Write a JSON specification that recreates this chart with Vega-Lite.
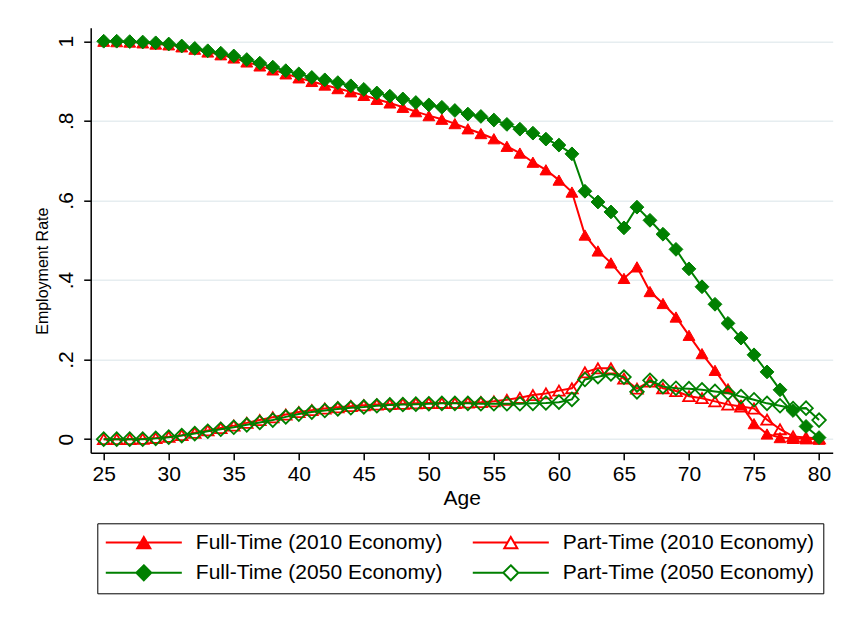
{
  "$schema": "https://vega.github.io/schema/vega-lite/v6.json",
  "width": 742,
  "height": 425,
  "autosize": {"type": "none"},
  "padding": {"left": 90.7, "top": 27.7, "right": 11.3, "bottom": 166.3},
  "background": "white",
  "config": {
    "view": {"stroke": null},
    "font": "Liberation Sans"
  },
  "data": {"values": [
    {"a":25,"s":"Full-Time (2010 Economy)","v":1.000},{"a":26,"s":"Full-Time (2010 Economy)","v":0.999},{"a":27,"s":"Full-Time (2010 Economy)","v":0.998},{"a":28,"s":"Full-Time (2010 Economy)","v":0.996},{"a":29,"s":"Full-Time (2010 Economy)","v":0.993},{"a":30,"s":"Full-Time (2010 Economy)","v":0.991},{"a":31,"s":"Full-Time (2010 Economy)","v":0.986},{"a":32,"s":"Full-Time (2010 Economy)","v":0.980},{"a":33,"s":"Full-Time (2010 Economy)","v":0.973},{"a":34,"s":"Full-Time (2010 Economy)","v":0.966},{"a":35,"s":"Full-Time (2010 Economy)","v":0.958},{"a":36,"s":"Full-Time (2010 Economy)","v":0.948},{"a":37,"s":"Full-Time (2010 Economy)","v":0.938},{"a":38,"s":"Full-Time (2010 Economy)","v":0.928},{"a":39,"s":"Full-Time (2010 Economy)","v":0.918},{"a":40,"s":"Full-Time (2010 Economy)","v":0.908},{"a":41,"s":"Full-Time (2010 Economy)","v":0.899},{"a":42,"s":"Full-Time (2010 Economy)","v":0.890},{"a":43,"s":"Full-Time (2010 Economy)","v":0.881},{"a":44,"s":"Full-Time (2010 Economy)","v":0.873},{"a":45,"s":"Full-Time (2010 Economy)","v":0.864},{"a":46,"s":"Full-Time (2010 Economy)","v":0.854},{"a":47,"s":"Full-Time (2010 Economy)","v":0.845},{"a":48,"s":"Full-Time (2010 Economy)","v":0.834},{"a":49,"s":"Full-Time (2010 Economy)","v":0.823},{"a":50,"s":"Full-Time (2010 Economy)","v":0.813},{"a":51,"s":"Full-Time (2010 Economy)","v":0.804},{"a":52,"s":"Full-Time (2010 Economy)","v":0.793},{"a":53,"s":"Full-Time (2010 Economy)","v":0.780},{"a":54,"s":"Full-Time (2010 Economy)","v":0.768},{"a":55,"s":"Full-Time (2010 Economy)","v":0.755},{"a":56,"s":"Full-Time (2010 Economy)","v":0.736},{"a":57,"s":"Full-Time (2010 Economy)","v":0.719},{"a":58,"s":"Full-Time (2010 Economy)","v":0.696},{"a":59,"s":"Full-Time (2010 Economy)","v":0.677},{"a":60,"s":"Full-Time (2010 Economy)","v":0.651},{"a":61,"s":"Full-Time (2010 Economy)","v":0.621},{"a":62,"s":"Full-Time (2010 Economy)","v":0.513},{"a":63,"s":"Full-Time (2010 Economy)","v":0.473},{"a":64,"s":"Full-Time (2010 Economy)","v":0.443},{"a":65,"s":"Full-Time (2010 Economy)","v":0.404},{"a":66,"s":"Full-Time (2010 Economy)","v":0.433},{"a":67,"s":"Full-Time (2010 Economy)","v":0.371},{"a":68,"s":"Full-Time (2010 Economy)","v":0.341},{"a":69,"s":"Full-Time (2010 Economy)","v":0.307},{"a":70,"s":"Full-Time (2010 Economy)","v":0.261},{"a":71,"s":"Full-Time (2010 Economy)","v":0.215},{"a":72,"s":"Full-Time (2010 Economy)","v":0.173},{"a":73,"s":"Full-Time (2010 Economy)","v":0.127},{"a":74,"s":"Full-Time (2010 Economy)","v":0.086},{"a":75,"s":"Full-Time (2010 Economy)","v":0.039},{"a":76,"s":"Full-Time (2010 Economy)","v":0.013},{"a":77,"s":"Full-Time (2010 Economy)","v":0.004},{"a":78,"s":"Full-Time (2010 Economy)","v":0.002},{"a":79,"s":"Full-Time (2010 Economy)","v":0.001},{"a":80,"s":"Full-Time (2010 Economy)","v":0.000},

    {"a":25,"s":"Part-Time (2010 Economy)","v":0.000},{"a":26,"s":"Part-Time (2010 Economy)","v":0.000},{"a":27,"s":"Part-Time (2010 Economy)","v":0.000},{"a":28,"s":"Part-Time (2010 Economy)","v":0.001},{"a":29,"s":"Part-Time (2010 Economy)","v":0.003},{"a":30,"s":"Part-Time (2010 Economy)","v":0.006},{"a":31,"s":"Part-Time (2010 Economy)","v":0.010},{"a":32,"s":"Part-Time (2010 Economy)","v":0.016},{"a":33,"s":"Part-Time (2010 Economy)","v":0.022},{"a":34,"s":"Part-Time (2010 Economy)","v":0.028},{"a":35,"s":"Part-Time (2010 Economy)","v":0.034},{"a":36,"s":"Part-Time (2010 Economy)","v":0.041},{"a":37,"s":"Part-Time (2010 Economy)","v":0.048},{"a":38,"s":"Part-Time (2010 Economy)","v":0.055},{"a":39,"s":"Part-Time (2010 Economy)","v":0.062},{"a":40,"s":"Part-Time (2010 Economy)","v":0.068},{"a":41,"s":"Part-Time (2010 Economy)","v":0.073},{"a":42,"s":"Part-Time (2010 Economy)","v":0.077},{"a":43,"s":"Part-Time (2010 Economy)","v":0.080},{"a":44,"s":"Part-Time (2010 Economy)","v":0.083},{"a":45,"s":"Part-Time (2010 Economy)","v":0.085},{"a":46,"s":"Part-Time (2010 Economy)","v":0.087},{"a":47,"s":"Part-Time (2010 Economy)","v":0.088},{"a":48,"s":"Part-Time (2010 Economy)","v":0.089},{"a":49,"s":"Part-Time (2010 Economy)","v":0.090},{"a":50,"s":"Part-Time (2010 Economy)","v":0.091},{"a":51,"s":"Part-Time (2010 Economy)","v":0.091},{"a":52,"s":"Part-Time (2010 Economy)","v":0.091},{"a":53,"s":"Part-Time (2010 Economy)","v":0.092},{"a":54,"s":"Part-Time (2010 Economy)","v":0.093},{"a":55,"s":"Part-Time (2010 Economy)","v":0.095},{"a":56,"s":"Part-Time (2010 Economy)","v":0.099},{"a":57,"s":"Part-Time (2010 Economy)","v":0.104},{"a":58,"s":"Part-Time (2010 Economy)","v":0.111},{"a":59,"s":"Part-Time (2010 Economy)","v":0.115},{"a":60,"s":"Part-Time (2010 Economy)","v":0.122},{"a":61,"s":"Part-Time (2010 Economy)","v":0.128},{"a":62,"s":"Part-Time (2010 Economy)","v":0.168},{"a":63,"s":"Part-Time (2010 Economy)","v":0.178},{"a":64,"s":"Part-Time (2010 Economy)","v":0.178},{"a":65,"s":"Part-Time (2010 Economy)","v":0.152},{"a":66,"s":"Part-Time (2010 Economy)","v":0.127},{"a":67,"s":"Part-Time (2010 Economy)","v":0.145},{"a":68,"s":"Part-Time (2010 Economy)","v":0.128},{"a":69,"s":"Part-Time (2010 Economy)","v":0.121},{"a":70,"s":"Part-Time (2010 Economy)","v":0.108},{"a":71,"s":"Part-Time (2010 Economy)","v":0.103},{"a":72,"s":"Part-Time (2010 Economy)","v":0.095},{"a":73,"s":"Part-Time (2010 Economy)","v":0.087},{"a":74,"s":"Part-Time (2010 Economy)","v":0.082},{"a":75,"s":"Part-Time (2010 Economy)","v":0.077},{"a":76,"s":"Part-Time (2010 Economy)","v":0.049},{"a":77,"s":"Part-Time (2010 Economy)","v":0.025},{"a":78,"s":"Part-Time (2010 Economy)","v":0.007},{"a":79,"s":"Part-Time (2010 Economy)","v":0.004},{"a":80,"s":"Part-Time (2010 Economy)","v":0.002},

    {"a":25,"s":"Full-Time (2050 Economy)","v":1.000},{"a":26,"s":"Full-Time (2050 Economy)","v":1.000},{"a":27,"s":"Full-Time (2050 Economy)","v":0.999},{"a":28,"s":"Full-Time (2050 Economy)","v":0.998},{"a":29,"s":"Full-Time (2050 Economy)","v":0.996},{"a":30,"s":"Full-Time (2050 Economy)","v":0.993},{"a":31,"s":"Full-Time (2050 Economy)","v":0.988},{"a":32,"s":"Full-Time (2050 Economy)","v":0.982},{"a":33,"s":"Full-Time (2050 Economy)","v":0.976},{"a":34,"s":"Full-Time (2050 Economy)","v":0.970},{"a":35,"s":"Full-Time (2050 Economy)","v":0.963},{"a":36,"s":"Full-Time (2050 Economy)","v":0.954},{"a":37,"s":"Full-Time (2050 Economy)","v":0.945},{"a":38,"s":"Full-Time (2050 Economy)","v":0.935},{"a":39,"s":"Full-Time (2050 Economy)","v":0.926},{"a":40,"s":"Full-Time (2050 Economy)","v":0.918},{"a":41,"s":"Full-Time (2050 Economy)","v":0.909},{"a":42,"s":"Full-Time (2050 Economy)","v":0.903},{"a":43,"s":"Full-Time (2050 Economy)","v":0.896},{"a":44,"s":"Full-Time (2050 Economy)","v":0.888},{"a":45,"s":"Full-Time (2050 Economy)","v":0.879},{"a":46,"s":"Full-Time (2050 Economy)","v":0.870},{"a":47,"s":"Full-Time (2050 Economy)","v":0.862},{"a":48,"s":"Full-Time (2050 Economy)","v":0.855},{"a":49,"s":"Full-Time (2050 Economy)","v":0.846},{"a":50,"s":"Full-Time (2050 Economy)","v":0.840},{"a":51,"s":"Full-Time (2050 Economy)","v":0.834},{"a":52,"s":"Full-Time (2050 Economy)","v":0.826},{"a":53,"s":"Full-Time (2050 Economy)","v":0.817},{"a":54,"s":"Full-Time (2050 Economy)","v":0.811},{"a":55,"s":"Full-Time (2050 Economy)","v":0.802},{"a":56,"s":"Full-Time (2050 Economy)","v":0.791},{"a":57,"s":"Full-Time (2050 Economy)","v":0.779},{"a":58,"s":"Full-Time (2050 Economy)","v":0.769},{"a":59,"s":"Full-Time (2050 Economy)","v":0.754},{"a":60,"s":"Full-Time (2050 Economy)","v":0.739},{"a":61,"s":"Full-Time (2050 Economy)","v":0.717},{"a":62,"s":"Full-Time (2050 Economy)","v":0.623},{"a":63,"s":"Full-Time (2050 Economy)","v":0.596},{"a":64,"s":"Full-Time (2050 Economy)","v":0.571},{"a":65,"s":"Full-Time (2050 Economy)","v":0.531},{"a":66,"s":"Full-Time (2050 Economy)","v":0.583},{"a":67,"s":"Full-Time (2050 Economy)","v":0.550},{"a":68,"s":"Full-Time (2050 Economy)","v":0.515},{"a":69,"s":"Full-Time (2050 Economy)","v":0.477},{"a":70,"s":"Full-Time (2050 Economy)","v":0.428},{"a":71,"s":"Full-Time (2050 Economy)","v":0.383},{"a":72,"s":"Full-Time (2050 Economy)","v":0.339},{"a":73,"s":"Full-Time (2050 Economy)","v":0.291},{"a":74,"s":"Full-Time (2050 Economy)","v":0.254},{"a":75,"s":"Full-Time (2050 Economy)","v":0.212},{"a":76,"s":"Full-Time (2050 Economy)","v":0.169},{"a":77,"s":"Full-Time (2050 Economy)","v":0.124},{"a":78,"s":"Full-Time (2050 Economy)","v":0.072},{"a":79,"s":"Full-Time (2050 Economy)","v":0.032},{"a":80,"s":"Full-Time (2050 Economy)","v":0.004},

    {"a":25,"s":"Part-Time (2050 Economy)","v":0.000},{"a":26,"s":"Part-Time (2050 Economy)","v":0.000},{"a":27,"s":"Part-Time (2050 Economy)","v":0.000},{"a":28,"s":"Part-Time (2050 Economy)","v":0.000},{"a":29,"s":"Part-Time (2050 Economy)","v":0.002},{"a":30,"s":"Part-Time (2050 Economy)","v":0.005},{"a":31,"s":"Part-Time (2050 Economy)","v":0.009},{"a":32,"s":"Part-Time (2050 Economy)","v":0.014},{"a":33,"s":"Part-Time (2050 Economy)","v":0.020},{"a":34,"s":"Part-Time (2050 Economy)","v":0.025},{"a":35,"s":"Part-Time (2050 Economy)","v":0.030},{"a":36,"s":"Part-Time (2050 Economy)","v":0.036},{"a":37,"s":"Part-Time (2050 Economy)","v":0.042},{"a":38,"s":"Part-Time (2050 Economy)","v":0.048},{"a":39,"s":"Part-Time (2050 Economy)","v":0.056},{"a":40,"s":"Part-Time (2050 Economy)","v":0.063},{"a":41,"s":"Part-Time (2050 Economy)","v":0.068},{"a":42,"s":"Part-Time (2050 Economy)","v":0.072},{"a":43,"s":"Part-Time (2050 Economy)","v":0.076},{"a":44,"s":"Part-Time (2050 Economy)","v":0.079},{"a":45,"s":"Part-Time (2050 Economy)","v":0.081},{"a":46,"s":"Part-Time (2050 Economy)","v":0.084},{"a":47,"s":"Part-Time (2050 Economy)","v":0.086},{"a":48,"s":"Part-Time (2050 Economy)","v":0.087},{"a":49,"s":"Part-Time (2050 Economy)","v":0.088},{"a":50,"s":"Part-Time (2050 Economy)","v":0.089},{"a":51,"s":"Part-Time (2050 Economy)","v":0.090},{"a":52,"s":"Part-Time (2050 Economy)","v":0.090},{"a":53,"s":"Part-Time (2050 Economy)","v":0.090},{"a":54,"s":"Part-Time (2050 Economy)","v":0.089},{"a":55,"s":"Part-Time (2050 Economy)","v":0.089},{"a":56,"s":"Part-Time (2050 Economy)","v":0.089},{"a":57,"s":"Part-Time (2050 Economy)","v":0.089},{"a":58,"s":"Part-Time (2050 Economy)","v":0.090},{"a":59,"s":"Part-Time (2050 Economy)","v":0.091},{"a":60,"s":"Part-Time (2050 Economy)","v":0.093},{"a":61,"s":"Part-Time (2050 Economy)","v":0.100},{"a":62,"s":"Part-Time (2050 Economy)","v":0.150},{"a":63,"s":"Part-Time (2050 Economy)","v":0.157},{"a":64,"s":"Part-Time (2050 Economy)","v":0.164},{"a":65,"s":"Part-Time (2050 Economy)","v":0.156},{"a":66,"s":"Part-Time (2050 Economy)","v":0.119},{"a":67,"s":"Part-Time (2050 Economy)","v":0.148},{"a":68,"s":"Part-Time (2050 Economy)","v":0.132},{"a":69,"s":"Part-Time (2050 Economy)","v":0.128},{"a":70,"s":"Part-Time (2050 Economy)","v":0.127},{"a":71,"s":"Part-Time (2050 Economy)","v":0.124},{"a":72,"s":"Part-Time (2050 Economy)","v":0.120},{"a":73,"s":"Part-Time (2050 Economy)","v":0.116},{"a":74,"s":"Part-Time (2050 Economy)","v":0.107},{"a":75,"s":"Part-Time (2050 Economy)","v":0.099},{"a":76,"s":"Part-Time (2050 Economy)","v":0.090},{"a":77,"s":"Part-Time (2050 Economy)","v":0.084},{"a":78,"s":"Part-Time (2050 Economy)","v":0.077},{"a":79,"s":"Part-Time (2050 Economy)","v":0.078},{"a":80,"s":"Part-Time (2050 Economy)","v":0.048}
  ]},
  "encoding": {
    "x": {"field": "a", "type": "quantitative",
      "scale": {"domain": [24, 81.05], "nice": false, "zero": false},
      "axis": {"values": [25,30,35,40,45,50,55,60,65,70,75,80], "title": "Age", "grid": false,
        "tickSize": 7, "tickColor": "#000", "tickWidth": 1.5, "domainColor": "#000", "domainWidth": 1.5,
        "labelFontSize": 21, "labelColor": "#000", "labelBaseline": "alphabetic", "labelPadding": 21,
        "titleFontSize": 21, "titleColor": "#000", "titleFontWeight": "normal", "titleBaseline": "alphabetic", "titleY": 51.3}},
    "y": {"field": "v", "type": "quantitative",
      "scale": {"domain": [-0.034, 1.034], "nice": false, "zero": false},
      "axis": {"values": [0,0.2,0.4,0.6,0.8,1], "title": "Employment Rate",
        "labelExpr": "datum.value == 0 ? '0' : datum.value == 1 ? '1' : replace(format(datum.value, '.1f'), '0.', '.')",
        "grid": true, "gridColor": "#e6edf0", "gridWidth": 1.5,
        "tickSize": 7, "tickColor": "#000", "tickWidth": 1.5, "domainColor": "#000", "domainWidth": 1.5,
        "labelFontSize": 21, "labelColor": "#000", "labelAngle": -90, "labelAlign": "center", "labelBaseline": "alphabetic", "labelPadding": 11.7,
        "titleFont": "Liberation Sans", "titleFontSize": 16, "titleColor": "#000", "titleFontWeight": "normal",
        "titleAngle": -90, "titleAlign": "center", "titleBaseline": "alphabetic", "titleX": -43, "titleY": 243}},
    "stroke": {"field": "s", "type": "nominal",
      "scale": {"domain": ["Full-Time (2010 Economy)", "Full-Time (2050 Economy)", "Part-Time (2010 Economy)", "Part-Time (2050 Economy)"],
                "range": ["#ff0000", "#008000", "#ff0000", "#008000"]},
      "legend": {"title": null, "orient": "none", "legendX": 6.6, "legendY": 495.6, "columns": 2,
        "labelFontSize": 21, "labelColor": "#000", "labelLimit": 400,
        "symbolSize": 169, "symbolStrokeWidth": 2, "symbolOffset": 27.5, "labelOffset": 41.5, "symbolOpacity": 1,
        "columnPadding": 25, "rowPadding": 8.5, "padding": 8.5,
        "strokeColor": "#000", "fillColor": "white"}
    }
  },
  "layer": [
    {"transform": [{"filter": "datum.s == 'Full-Time (2010 Economy)'"}], "mark": {"type": "line", "strokeWidth": 2}},
    {"transform": [{"filter": "datum.s == 'Full-Time (2010 Economy)'"}], "mark": {"type": "point", "shape": "triangle-up", "filled": true, "fill": "#ff0000", "size": 140, "strokeWidth": 1, "opacity": 1}},
    {"transform": [{"filter": "datum.s == 'Part-Time (2010 Economy)'"}], "mark": {"type": "line", "strokeWidth": 2}},
    {"transform": [{"filter": "datum.s == 'Part-Time (2010 Economy)'"}], "mark": {"type": "point", "shape": "triangle-up", "filled": false, "fill": "transparent", "size": 135, "strokeWidth": 1.8, "opacity": 1}},
    {"transform": [{"filter": "datum.s == 'Full-Time (2050 Economy)'"}], "mark": {"type": "line", "strokeWidth": 2}},
    {"transform": [{"filter": "datum.s == 'Full-Time (2050 Economy)'"}], "mark": {"type": "point", "shape": "diamond", "filled": true, "fill": "#008000", "size": 190, "strokeWidth": 1, "opacity": 1}},
    {"transform": [{"filter": "datum.s == 'Part-Time (2050 Economy)'"}], "mark": {"type": "line", "strokeWidth": 2}},
    {"transform": [{"filter": "datum.s == 'Part-Time (2050 Economy)'"}], "mark": {"type": "point", "shape": "diamond", "filled": false, "fill": "transparent", "size": 185, "strokeWidth": 1.8, "opacity": 1}},
    {"transform": [{"filter": "false"}], "mark": {"type": "point", "filled": true, "opacity": 1},
      "encoding": {
        "fill": {"field": "s", "type": "nominal", "scale": {"domain": ["Full-Time (2010 Economy)", "Full-Time (2050 Economy)", "Part-Time (2010 Economy)", "Part-Time (2050 Economy)"], "range": ["#ff0000", "#008000", "transparent", "transparent"]}},
        "shape": {"field": "s", "type": "nominal", "scale": {"domain": ["Full-Time (2010 Economy)", "Full-Time (2050 Economy)", "Part-Time (2010 Economy)", "Part-Time (2050 Economy)"], "range": ["M-5.85,0H5.85M0,-0.866L1,0.866H-1Z", "M-5.85,0H5.85M0,-1.15L1.15,0L0,1.15L-1.15,0Z", "M-5.85,0H-0.5M0.5,0H5.85M0,-0.866L1,0.866H-1Z", "M-5.85,0H-1.15M1.15,0H5.85M0,-1.15L1.15,0L0,1.15L-1.15,0Z"]}}
      }}
  ]
}
